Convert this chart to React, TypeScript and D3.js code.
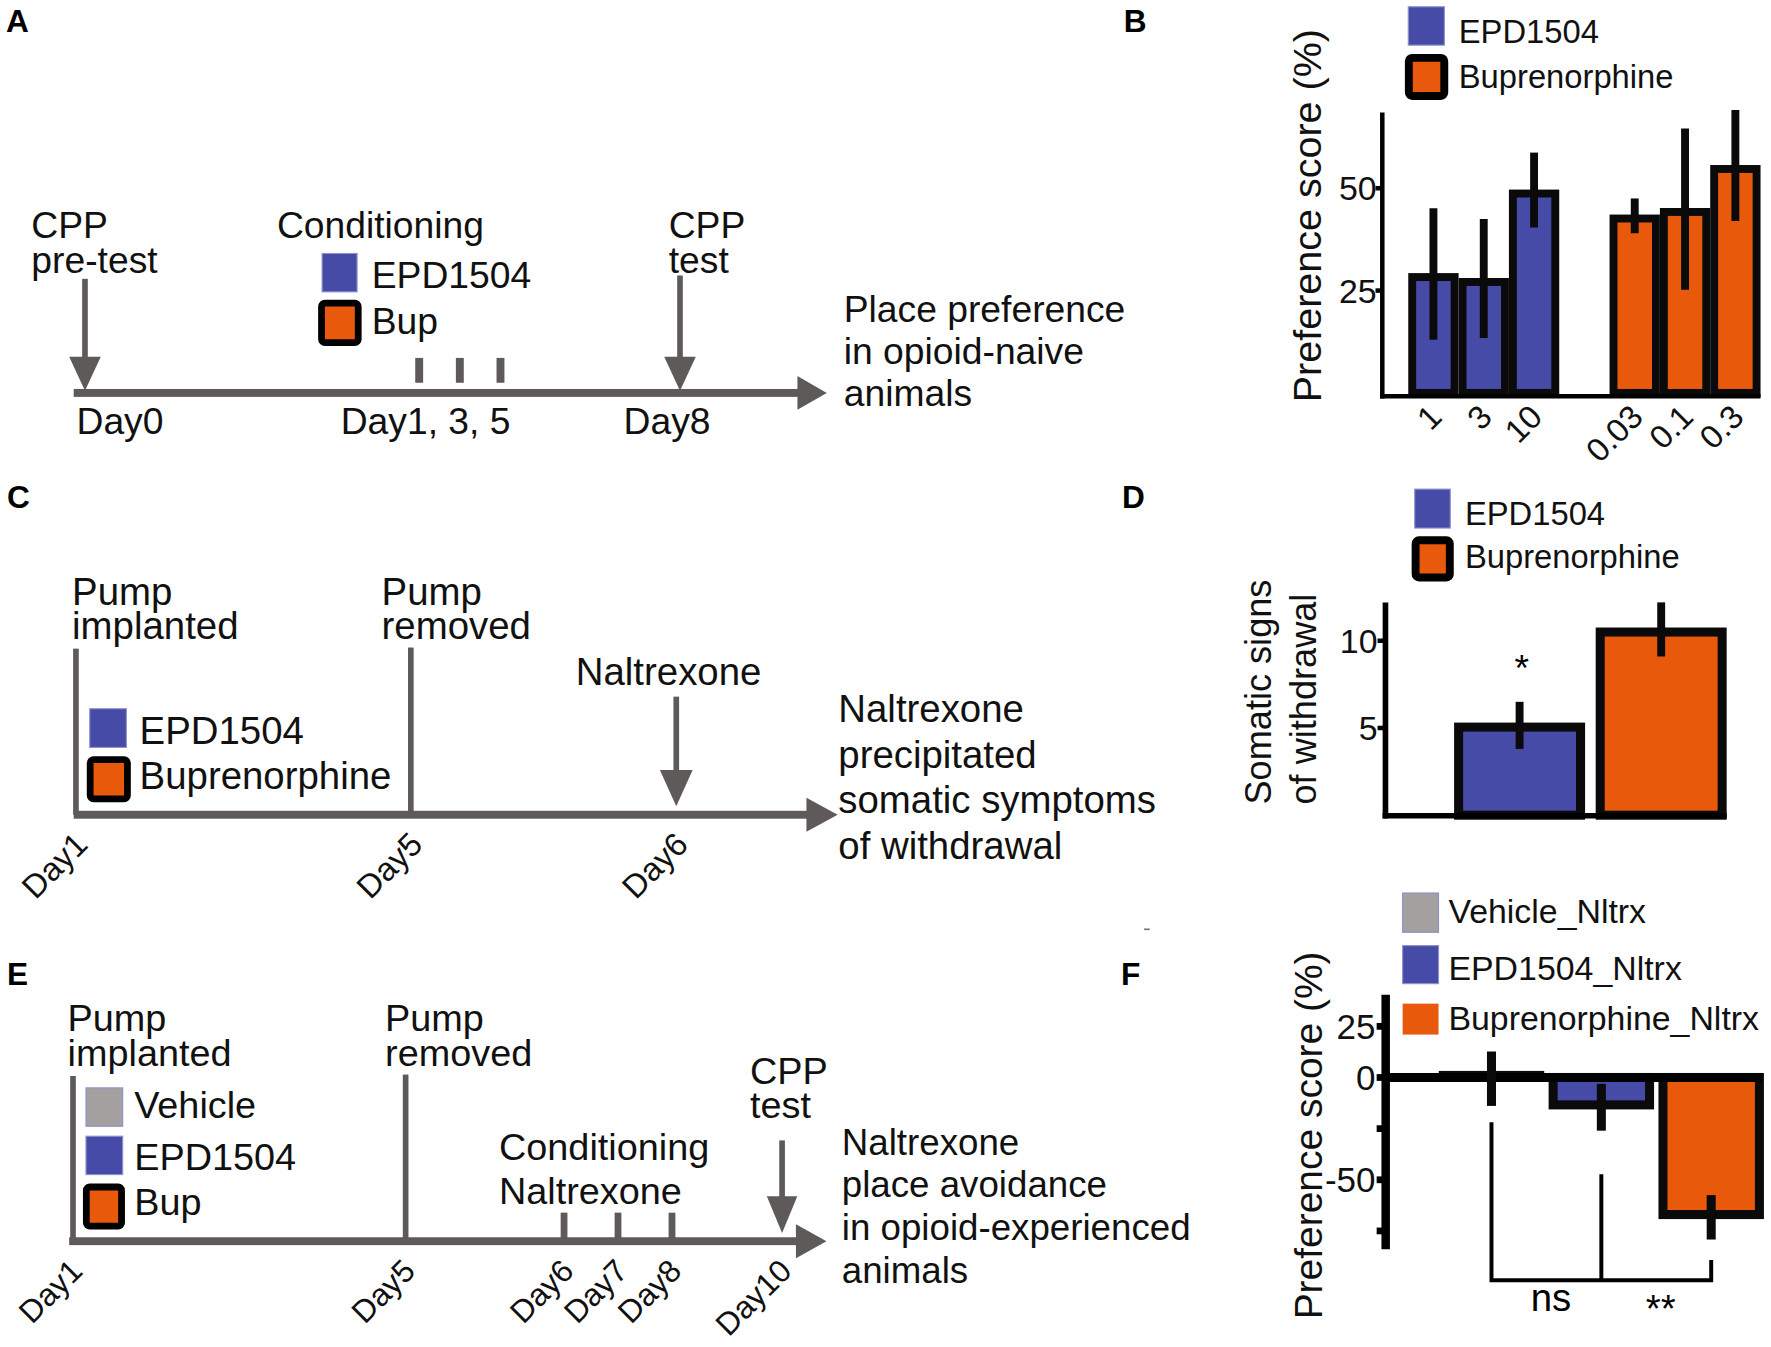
import React from "react"
import * as d3 from "d3"

// ---- data ----
const doseLabels = ["1", "3", "10", "0.03", "0.1", "0.3"]
const doseGroups = ["EPD1504", "EPD1504", "EPD1504", "Buprenorphine", "Buprenorphine", "Buprenorphine"]
const cppScores = [28.3, 27.1, 48.7, 42.6, 44.2, 54.7]
const cppErrLow = [13.0, 13.4, 40.4, 39.0, 25.2, 42.0]
const cppErrHigh = [45.1, 42.5, 58.7, 47.5, 64.6, 69.1]
const cppTicks = [25, 50]

const withdrawalGroups = ["EPD1504", "Buprenorphine"]
const withdrawalSigns = [5.05, 10.5]
const withdrawalErrLow = [3.8, 9.1]
const withdrawalErrHigh = [6.5, 12.2]
const withdrawalTicks = [5, 10]

const avoidGroups = ["Vehicle_Nltrx", "EPD1504_Nltrx", "Buprenorphine_Nltrx"]
const avoidScores = [1, -13.4, -67]
const avoidErrLow = [-13.9, -26, -79.2]
const avoidErrHigh = [12.7, -3.1, -57.5]
const avoidTicks = [25, 0, -50]
const avoidMinorTicks = [-25, -75]

const daysA = [0, 1, 3, 5, 8]
const daysC = [1, 5, 6]
const daysE = [1, 5, 6, 7, 8, 10]
const condDaysE = [6, 7, 8]

const FONT = "'Liberation Sans', Arial, Helvetica, sans-serif"
const GRAY = "#5E5A59"
const colors: any = {
  EPD1504: "#464BA8",
  Buprenorphine: "#E8590C",
  Vehicle: "#A3A09F",
  Vehicle_Nltrx: "#A3A09F",
  EPD1504_Nltrx: "#464BA8",
  Buprenorphine_Nltrx: "#E8590C",
}

// ---- small drawing helpers ----
const HArrow = ({ x0, x1, y, head = 27 }: any) => (
  <g fill={GRAY}>
    <rect x={x0} y={y - 3.5} width={x1 - head - x0 + 1} height={7} />
    <path d={`M${x1 - head},${y - 15}L${x1},${y}L${x1 - head},${y + 15}Z`} />
  </g>
)

const DownArrow = ({ x, y0, y1, head = 31, half = 14 }: any) => (
  <g fill={GRAY}>
    <rect x={x - 2.5} y={y0} width={5} height={y1 - head - y0 + 2} />
    <path d={`M${x - half},${y1 - head}L${x},${y1}L${x + half},${y1 - head}Z`} />
  </g>
)

const Lines = ({ x, y, lines, step, size = 33, anchor = "start" }: any) => (
  <text x={x} y={y} fontSize={size} fontFamily={FONT} textAnchor={anchor} fill="#111">
    {lines.map((l: string, i: number) => (
      <tspan key={i} x={x} dy={i === 0 ? 0 : step}>{l}</tspan>
    ))}
  </text>
)

const Swatch = ({ x, y, w, h, fill, bordered, sw = 6 }: any) =>
  bordered ? (
    <rect x={x + sw / 2} y={y + sw / 2} width={w - sw} height={h - sw} rx={3}
      fill={fill} stroke="#000" strokeWidth={sw} />
  ) : (
    <rect x={x} y={y} width={w} height={h} fill={fill} stroke="#8f92c8" strokeWidth={1} />
  )

const PanelLabel = ({ x, y, t }: any) => (
  <text x={x} y={y} fontSize={28} fontWeight="bold" fontFamily={FONT}>{t}</text>
)

const RotLabel = ({ x, y, t, size = 28 }: any) => (
  <text transform={`translate(${x},${y}) rotate(-45)`} textAnchor="end" fontSize={size} fontFamily={FONT} fill="#111">{t}</text>
)

// ---- panel A ----
const TimelineA = () => {
  const x = d3.scaleLinear().domain([0, 1, 5, 8]).range([75, 371, 443, 602])
  const axisY = 348
  return (
    <g>
      <HArrow x0={65} x1={732} y={axisY} head={26} />
      <DownArrow x={x(0)} y0={247} y1={346} head={30} />
      <DownArrow x={x(8)} y0={244} y1={346} head={30} />
      {daysA.filter(d => d > 0 && d < 8).map(d => (
        <rect key={d} x={x(d) - 3.5} y={317} width={7} height={22} fill={GRAY} />
      ))}
      <Lines x={27.5} y={211} lines={["CPP", "pre-test"]} step={30.5} />
      <Lines x={245} y={211} lines={["Conditioning"]} step={30} />
      <Lines x={592} y={211} lines={["CPP", "test"]} step={30.5} />
      <Swatch x={285} y={224.5} w={31} h={34} fill={colors.EPD1504} />
      <Swatch x={281.5} y={265.5} w={38.5} h={41} fill={colors.Buprenorphine} bordered sw={6} />
      <Lines x={329} y={255.5} lines={["EPD1504"]} step={0} />
      <Lines x={329} y={296} lines={["Bup"]} step={0} />
      <Lines x={x(0) - 7.5} y={384} lines={[`Day${daysA[0]}`]} step={0} />
      <Lines x={x(1) - 69.5} y={384} lines={[`Day${daysA[1]}, ${daysA[2]}, ${daysA[3]}`]} step={0} />
      <Lines x={x(8) - 50} y={384} lines={[`Day${daysA[4]}`]} step={0} />
      <Lines x={747} y={285} lines={["Place preference", "in opioid-naive", "animals"]} step={37.5} />
    </g>
  )
}

// ---- panel C ----
const TimelineC = () => {
  const x = d3.scaleLinear().domain([1, 5, 6]).range([67, 363.6, 598.7])
  const axisY = 721.6
  return (
    <g>
      <rect x={x(1) - 2.5} y={574.5} width={5} height={axisY - 574.5} fill={GRAY} />
      <rect x={x(5) - 2.5} y={573.5} width={5} height={axisY - 573.5} fill={GRAY} />
      <HArrow x0={65} x1={741.6} y={axisY} head={27.6} />
      <DownArrow x={x(6)} y0={617} y1={714} head={32} half={14.5} />
      <Lines x={63.6} y={535.6} lines={["Pump", "implanted"]} step={30} size={34} />
      <Lines x={337.7} y={535.6} lines={["Pump", "removed"]} step={30} size={34} />
      <Lines x={509.7} y={606.5} lines={["Naltrexone"]} step={0} size={34} />
      <Swatch x={79.2} y={627.7} w={32.5} h={34.3} fill={colors.EPD1504} />
      <Swatch x={76.6} y={669.8} w={39} h={40.7} fill={colors.Buprenorphine} bordered sw={6} />
      <Lines x={123.4} y={658.7} lines={["EPD1504"]} step={0} size={34} />
      <Lines x={123.4} y={699} lines={["Buprenorphine"]} step={0} size={34} />
      {daysC.map(d => <RotLabel key={d} x={x(d) + 12} y={axisY + 28} t={`Day${d}`} size={29} />)}
      <Lines x={742.2} y={639.5} lines={["Naltrexone", "precipitated", "somatic symptoms", "of withdrawal"]} step={40.3} size={34} />
    </g>
  )
}

// ---- panel E ----
const TimelineE = () => {
  const x = d3.scaleLinear().domain([1, 5, 6, 8, 10]).range([64.4, 359, 499.3, 594.9, 692.4])
  const axisY = 1099.3
  return (
    <g>
      <rect x={x(1) - 2.5} y={953} width={5} height={axisY - 953} fill={GRAY} />
      <rect x={x(5) - 2.5} y={951.7} width={5} height={axisY - 951.7} fill={GRAY} />
      {condDaysE.map(d => (
        <rect key={d} x={x(d) - 3} y={1074} width={6} height={axisY - 1074} fill={GRAY} />
      ))}
      <HArrow x0={61} x1={731.7} y={axisY} head={27} />
      <DownArrow x={x(10)} y0={1010} y1={1092} head={32.5} half={13.5} />
      <Lines x={59.6} y={913.4} lines={["Pump", "implanted"]} step={31} size={33.5} />
      <Lines x={340.8} y={913.4} lines={["Pump", "removed"]} step={31} size={33.5} />
      <Lines x={441.7} y={1027.6} lines={["Conditioning", "Naltrexone"]} step={38.4} size={33.5} />
      <Lines x={664} y={960} lines={["CPP", "test"]} step={30.5} size={33.5} />
      <Swatch x={75.9} y={963.5} w={32.5} h={34} fill={colors.Vehicle} />
      <Swatch x={75.9} y={1006.3} w={32.5} h={34} fill={colors.EPD1504} />
      <Swatch x={73.2} y={1048.3} w={37.2} h={40.7} fill={colors.Buprenorphine} bordered sw={6} />
      <Lines x={118.6} y={990.1} lines={["Vehicle"]} step={0} size={33.5} />
      <Lines x={118.6} y={1035.9} lines={["EPD1504"]} step={0} size={33.5} />
      <Lines x={118.6} y={1075.7} lines={["Bup"]} step={0} size={33.5} />
      {daysE.map(d => <RotLabel key={d} x={x(d) + 10} y={axisY + 28} t={`Day${d}`} size={28} />)}
      <Lines x={745.3} y={1022.6} lines={["Naltrexone", "place avoidance", "in opioid-experienced", "animals"]} step={37.8} size={32.5} />
    </g>
  )
}

// ---- panel B ----
const BarsB = () => {
  const slots = [...doseLabels.slice(0, 3), "", ...doseLabels.slice(3)]
  const x = d3.scaleBand().domain(slots).range([1247, 1559]).padding(0)
  const y = d3.scaleLinear().domain([0, 50]).range([348, 166.7])
  const bw = x.bandwidth()
  const sw = 7
  const axisX = 1224
  return (
    <g>
      <Swatch x={1247} y={6} w={32} h={34} fill={colors.EPD1504} />
      <Swatch x={1244} y={47.8} w={38.4} h={40.7} fill={colors.Buprenorphine} bordered sw={7} />
      <Lines x={1291.7} y={37.8} lines={["EPD1504"]} step={0} size={29} />
      <Lines x={1291.7} y={77.5} lines={["Buprenorphine"]} step={0} size={29} />
      {doseLabels.map((d, i) => (
        <rect key={d} x={x(d)! + sw / 2} y={y(cppScores[i])} width={bw - sw} height={y(0) - y(cppScores[i])}
          fill={colors[doseGroups[i]]} stroke="#0a0a0a" strokeWidth={sw} />
      ))}
      {doseLabels.map((d, i) => (
        <line key={d} x1={x(d)! + bw / 2} x2={x(d)! + bw / 2} y1={y(cppErrLow[i])} y2={y(cppErrHigh[i])}
          stroke="#0a0a0a" strokeWidth={7} />
      ))}
      <line x1={axisX} x2={axisX} y1={y(68.5)} y2={353} stroke="#000" strokeWidth={4} />
      <line x1={axisX - 2} x2={1559} y1={351} y2={351} stroke="#000" strokeWidth={4} />
      {cppTicks.map(t => (
        <g key={t}>
          <line x1={axisX - 6} x2={axisX} y1={y(t)} y2={y(t)} stroke="#000" strokeWidth={4} />
          <text x={axisX - 5} y={y(t)} dy="0.36em" textAnchor="end" fontSize={30} fontFamily={FONT} fill="#111">{t}</text>
        </g>
      ))}
      {doseLabels.map(d => <RotLabel key={d} x={x(d)! + bw / 2 + 9} y={371} t={d} size={29} />)}
      <text transform="translate(1170,191) rotate(-90)" textAnchor="middle" fontSize={35} fontFamily={FONT} fill="#111">
        Preference score (%)
      </text>
    </g>
  )
}

// ---- panel D ----
const BarsD = () => {
  const x = d3.scaleBand().domain(withdrawalGroups).range([1287.6, 1529]).paddingInner(0.075).paddingOuter(0)
  const y = d3.scaleLinear().domain([0, 10]).range([722, 567.5])
  const bw = x.bandwidth()
  const sw = 8
  const axisX = 1226.8
  return (
    <g>
      <Swatch x={1252.7} y={433.2} w={31.5} h={34.5} fill={colors.EPD1504} />
      <Swatch x={1250} y={475} w={37.3} h={40} fill={colors.Buprenorphine} bordered sw={7} />
      <Lines x={1297.2} y={464.8} lines={["EPD1504"]} step={0} size={29} />
      <Lines x={1297.2} y={503.2} lines={["Buprenorphine"]} step={0} size={29} />
      {withdrawalGroups.map((g, i) => (
        <rect key={g} x={x(g)! + sw / 2} y={y(withdrawalSigns[i])} width={bw - sw}
          height={y(0) - y(withdrawalSigns[i])} fill={colors[g]} stroke="#0a0a0a" strokeWidth={sw} />
      ))}
      {withdrawalGroups.map((g, i) => (
        <line key={g} x1={x(g)! + bw / 2} x2={x(g)! + bw / 2} y1={y(withdrawalErrLow[i])} y2={y(withdrawalErrHigh[i])}
          stroke="#0a0a0a" strokeWidth={7} />
      ))}
      <line x1={axisX} x2={axisX} y1={y(12.2)} y2={725} stroke="#000" strokeWidth={5} />
      <line x1={axisX - 2.5} x2={1529} y1={722.5} y2={722.5} stroke="#000" strokeWidth={5} />
      {withdrawalTicks.map(t => (
        <g key={t}>
          <line x1={axisX - 7} x2={axisX} y1={y(t)} y2={y(t)} stroke="#000" strokeWidth={4} />
          <text x={axisX - 7} y={y(t)} dy="0.36em" textAnchor="end" fontSize={30} fontFamily={FONT} fill="#111">{t}</text>
        </g>
      ))}
      <text x={x("EPD1504")! + bw / 2 + 2} y={603} textAnchor="middle" fontSize={33} fontFamily={FONT}>*</text>
      <text transform="translate(1125.3,712.5) rotate(-90)" fontSize={32} fontFamily={FONT} fill="#111">Somatic signs</text>
      <text transform="translate(1165.3,712.5) rotate(-90)" fontSize={32} fontFamily={FONT} fill="#111">of withdrawal</text>
    </g>
  )
}

// ---- panel F ----
const BarsF = () => {
  const x = d3.scaleBand().domain(avoidGroups).range([1274, 1562]).paddingInner(0.04).paddingOuter(0)
  const y = d3.scaleLinear().domain([0, 25]).range([954.3, 909])
  const bw = x.bandwidth()
  const sw = 8
  const axisX = 1227
  const cx = (g: string) => x(g)! + bw / 2
  const brY = 1133.8
  const legendY = [790.9, 837.5, 888.9]
  const legendH = [34.8, 33.7, 27.4]
  const legendBase = [817.5, 868.3, 912]
  return (
    <g>
      {avoidGroups.map((g, i) => (
        <g key={g}>
          <rect x={1242} y={legendY[i]} width={31.8} height={legendH[i]} fill={colors[g]}
            stroke={i === 2 ? "none" : "#8f92c8"} strokeWidth={1} />
          <text x={1282.6} y={legendBase[i]} fontSize={30} fontFamily={FONT} fill="#111">{g}</text>
        </g>
      ))}
      {avoidGroups.map((g, i) => {
        const v = avoidScores[i]
        const top = Math.min(y(v), y(0))
        return (
          <rect key={g} x={x(g)! + sw / 2} y={top} width={bw - sw} height={Math.abs(y(v) - y(0))}
            fill={colors[g]} stroke="#0a0a0a" strokeWidth={sw} />
        )
      })}
      <line x1={axisX} x2={1560} y1={y(0)} y2={y(0)} stroke="#000" strokeWidth={8} />
      {avoidGroups.map((g, i) => (
        <line key={g} x1={cx(g)} x2={cx(g)} y1={y(avoidErrLow[i])} y2={y(avoidErrHigh[i])}
          stroke="#0a0a0a" strokeWidth={8} />
      ))}
      <line x1={axisX} x2={axisX} y1={y(40.4)} y2={y(-84)} stroke="#000" strokeWidth={7.5} />
      {avoidTicks.map(t => (
        <g key={t}>
          <line x1={axisX - 8} x2={axisX} y1={y(t)} y2={y(t)} stroke="#000" strokeWidth={6} />
          <text x={axisX - 9} y={y(t)} dy="0.36em" textAnchor="end" fontSize={31} fontFamily={FONT} fill="#111">{t}</text>
        </g>
      ))}
      {avoidMinorTicks.map(t => (
        <line key={t} x1={axisX - 8} x2={axisX} y1={y(t)} y2={y(t)} stroke="#000" strokeWidth={6} />
      ))}
      <path d={`M${cx(avoidGroups[0])},994V${brY}H${cx(avoidGroups[2])}V1116M${cx(avoidGroups[1])},1040V${brY}`}
        fill="none" stroke="#000" strokeWidth={3.5} />
      <text x={(cx(avoidGroups[0]) + cx(avoidGroups[1])) / 2 + 4} y={1161} textAnchor="middle" fontSize={34} fontFamily={FONT}>ns</text>
      <text x={(cx(avoidGroups[1]) + cx(avoidGroups[2])) / 2 + 4} y={1171} textAnchor="middle" fontSize={34} fontFamily={FONT}>**</text>
      <text transform="translate(1171,1005.6) rotate(-90)" textAnchor="middle" fontSize={34.5} fontFamily={FONT} fill="#111">
        Preference score (%)
      </text>
    </g>
  )
}

export default function App() {
  return (
    <svg width={1771} height={1347} viewBox="0 0 1568 1193"
      style={{ position: "absolute", left: 0, top: 0, display: "block", background: "#fff" }}>
      <rect x={0} y={0} width={1568} height={1193} fill="#fff" />
      <PanelLabel x={5} y={28} t="A" />
      <PanelLabel x={995} y={28} t="B" />
      <PanelLabel x={6} y={450} t="C" />
      <PanelLabel x={993.5} y={450} t="D" />
      <PanelLabel x={6} y={872} t="E" />
      <PanelLabel x={992.5} y={872} t="F" />
      <TimelineA />
      <TimelineC />
      <TimelineE />
      <BarsB />
      <BarsD />
      <BarsF />
      <rect x={1013} y={822.3} width={5} height={1.5} fill="#777" />
    </svg>
  )
}
